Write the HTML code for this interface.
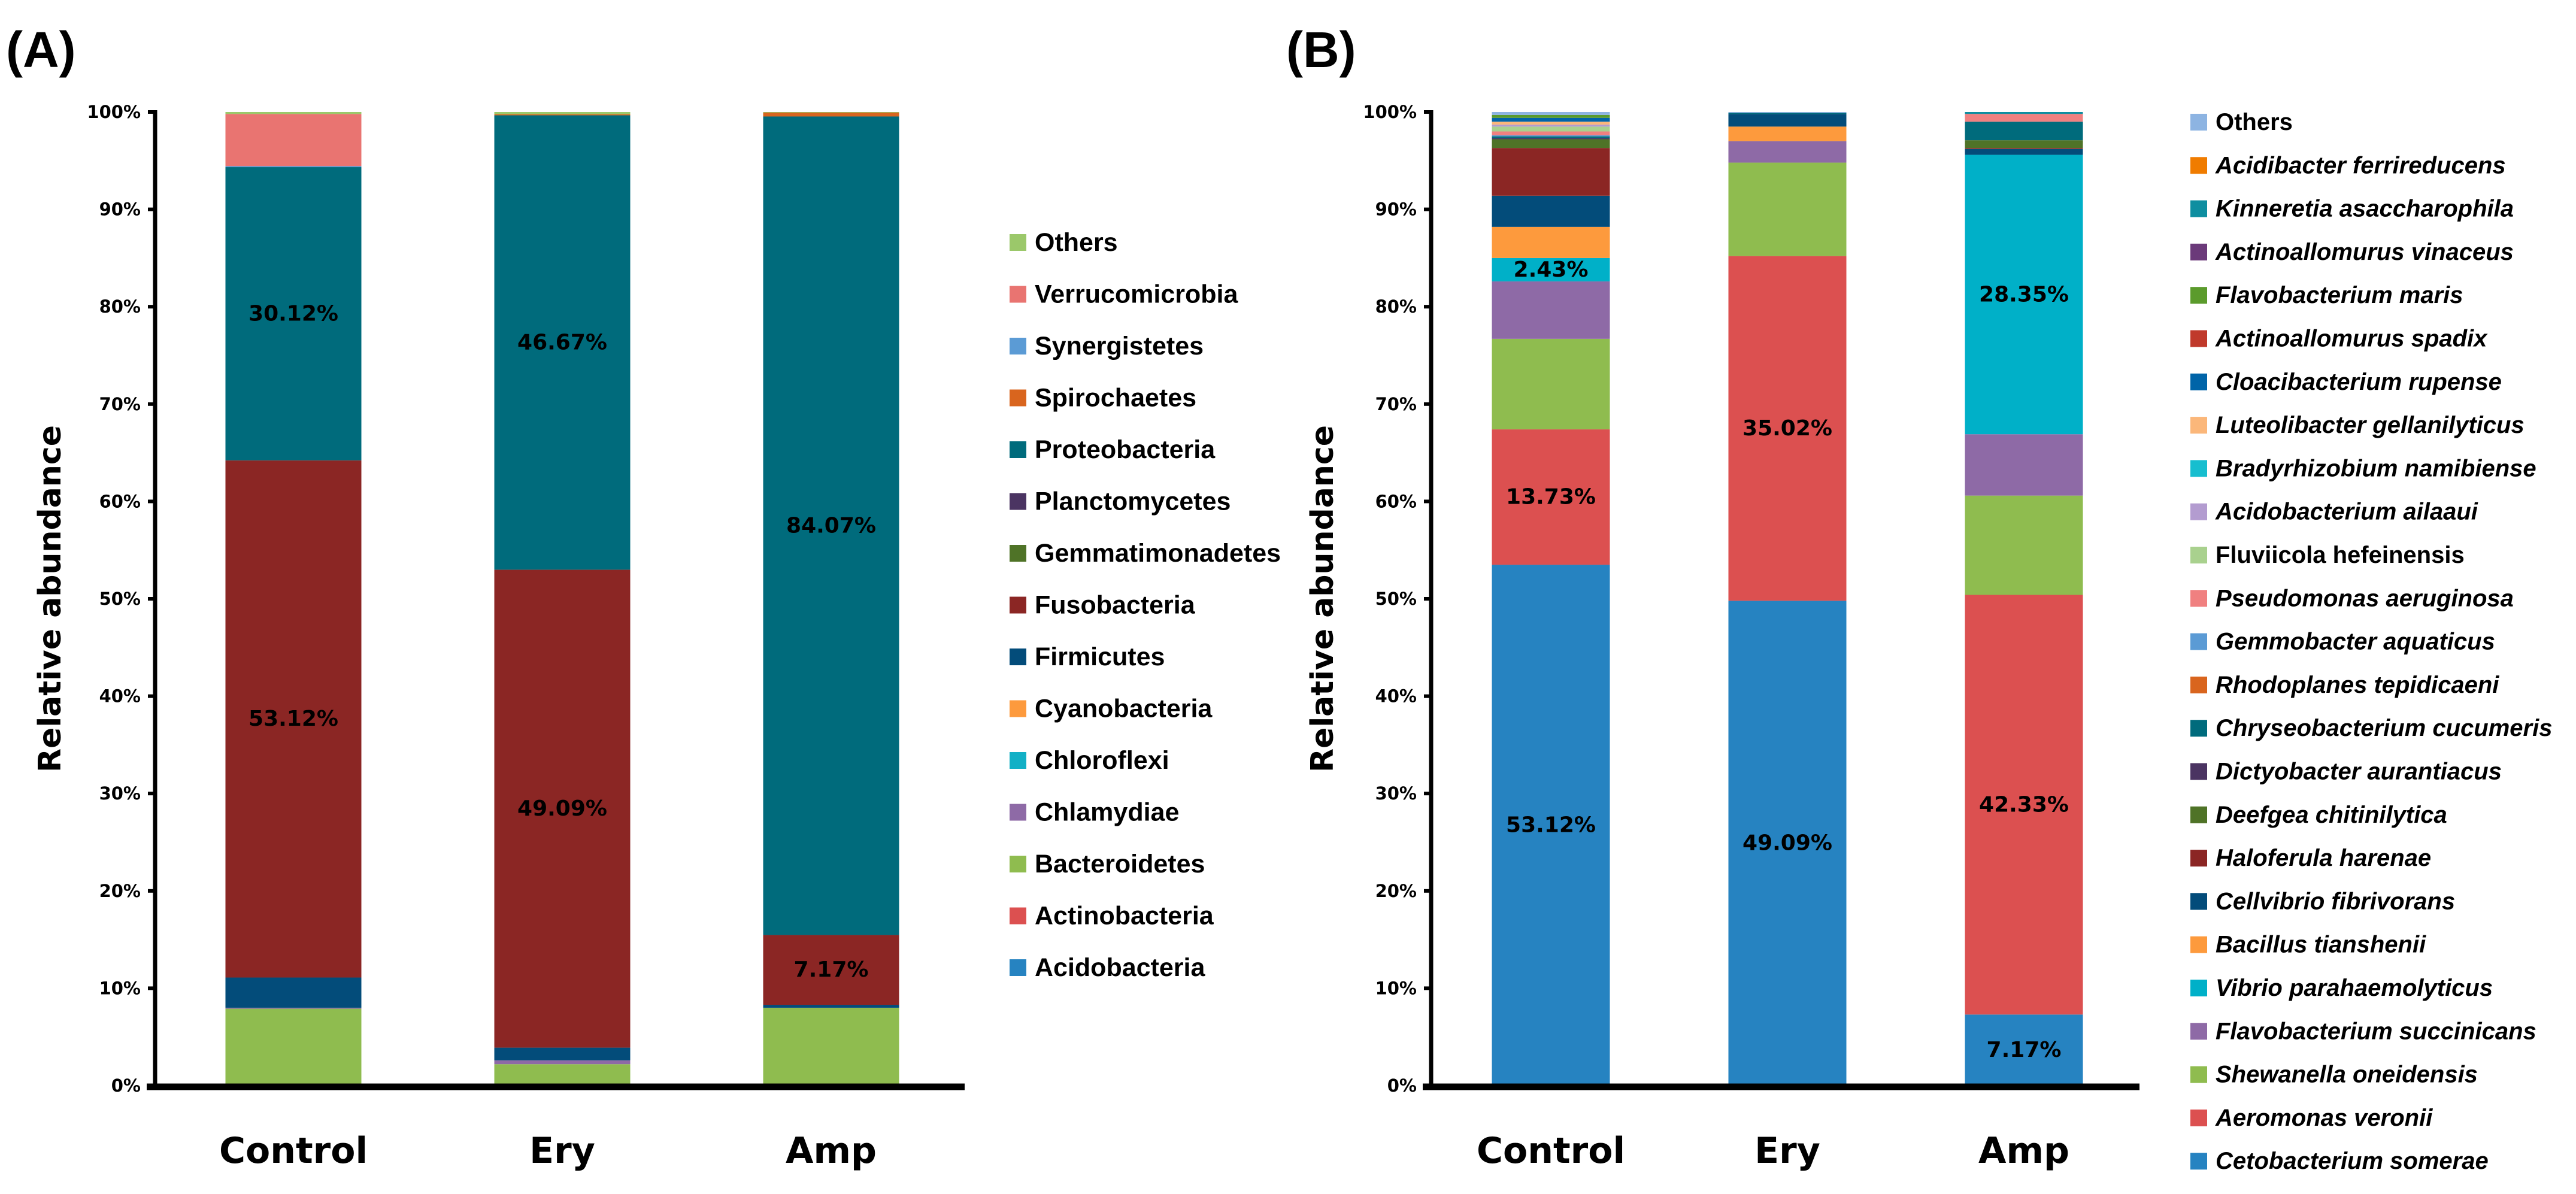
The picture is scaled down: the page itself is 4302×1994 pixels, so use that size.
<!DOCTYPE html>
<html><head><meta charset="utf-8">
<style>
html,body{margin:0;padding:0;background:#fff;}
svg{display:block;}
.tick{font-family:"DejaVu Sans","Liberation Sans",sans-serif;font-weight:bold;font-size:29px;fill:#000;}
.cat{font-family:"DejaVu Sans","Liberation Sans",sans-serif;font-weight:bold;font-size:60px;fill:#000;}
.ytitle{font-family:"DejaVu Sans","Liberation Sans",sans-serif;font-weight:bold;font-size:52px;fill:#000;}
.pct{font-family:"DejaVu Sans","Liberation Sans",sans-serif;font-weight:bold;font-size:36px;fill:#000;}
.leg{font-family:"Liberation Sans",sans-serif;font-weight:bold;font-size:43px;fill:#000;}
.legb{font-family:"Liberation Sans",sans-serif;font-weight:bold;font-size:40px;fill:#000;}
.panel{font-family:"Liberation Sans",sans-serif;font-weight:bold;font-size:84px;fill:#000;}
</style></head>
<body>
<svg id="chart" xmlns="http://www.w3.org/2000/svg" width="4302" height="1994" viewBox="0 0 4302 1994">
<text class="panel" x="10" y="112">(A)</text>
<text class="panel" x="2148" y="112">(B)</text>
</svg>
<script>
// ---------- Panel A data (phylum) ----------
const catsA = ["Control", "Ery", "Amp"];
const seriesA = ["Acidobacteria","Actinobacteria","Bacteroidetes","Chlamydiae","Chloroflexi","Cyanobacteria","Firmicutes","Fusobacteria","Gemmatimonadetes","Planctomycetes","Proteobacteria","Spirochaetes","Synergistetes","Verrucomicrobia","Others"];
const colorsA = ["#2683c1","#dc5050","#8fbc4f","#8e6aa6","#12b0c6","#fd9a3d","#034c7a","#8b2624","#4f7327","#4b3462","#006b7c","#d9651e","#5b9bd5","#e97471","#9bc86a"];
const controlA = [0.1,0,7.8,0.1,0,0,3.1,53.12,0,0,30.12,0,0.1,5.36,0.2];
const eryA     = [0,0,2.2,0.4,0,0,1.3,49.09,0,0,46.67,0.1,0,0,0.24];
const ampA     = [0,0,8.0,0,0,0,0.3,7.17,0,0,84.07,0.4,0,0,0.06];
const labelsA  = [[[7,"53.12%"],[10,"30.12%"]],[[7,"49.09%"],[10,"46.67%"]],[[7,"7.17%"],[10,"84.07%"]]];

// ---------- Panel B data (species) ----------
const catsB = ["Control", "Ery", "Amp"];
const seriesB = ["Cetobacterium somerae","Aeromonas veronii","Shewanella oneidensis","Flavobacterium succinicans","Vibrio parahaemolyticus","Bacillus tianshenii","Cellvibrio fibrivorans","Haloferula harenae","Deefgea chitinilytica","Dictyobacter aurantiacus","Chryseobacterium cucumeris","Rhodoplanes tepidicaeni","Gemmobacter aquaticus","Pseudomonas aeruginosa","Fluviicola hefeinensis","Acidobacterium ailaaui","Bradyrhizobium namibiense","Luteolibacter gellanilyticus","Cloacibacterium rupense","Actinoallomurus spadix","Flavobacterium maris","Actinoallomurus vinaceus","Kinneretia asaccharophila","Acidibacter ferrireducens","Others"];
const italicB = [1,1,1,1,1,1,1,1,1,1,1,1,1,1,0,1,1,1,1,1,1,1,1,1,0];
const colorsB = ["#2683c1","#dc5050","#8fbc4f","#8e6aa6","#00b0c8","#fd9a3d","#034c7a","#8b2624","#4f7327","#4b3462","#006b7c","#d9651e","#5b9bd5","#f08080","#a9d18e","#b39cd0","#17becf","#fbb77a","#0064a8","#c0392b","#5b9b2c","#6b3a7a","#0e8ea0","#f07c00","#8db4e2"];
const controlB = [53.5,13.9,9.3,5.9,2.4,3.2,3.2,4.9,0.9,0.1,0.2,0,0.1,0.4,0.5,0.2,0,0.3,0.4,0,0.3,0,0,0,0.3];
const eryB     = [49.8,35.4,9.6,2.2,0,1.5,1.3,0,0,0,0.1,0,0,0,0,0,0,0,0,0,0,0,0,0,0.1];
const ampB     = [7.3,43.1,10.2,6.3,28.7,0,0.6,0.1,0.8,0,1.9,0,0,0.8,0,0,0,0,0,0,0,0,0.2,0,0];
const labelsB  = [[[0,"53.12%"],[1,"13.73%"],[4,"2.43%"]],[[0,"49.09%"],[1,"35.02%"]],[[0,"7.17%"],[1,"42.33%"],[4,"28.35%"]]];

const yTicks = [0,10,20,30,40,50,60,70,80,90,100];

const NS = "http://www.w3.org/2000/svg";
const svg = document.getElementById("chart");
function mk(tag, attrs, parent){
  const e = document.createElementNS(NS, tag);
  for (const k in attrs) e.setAttribute(k, attrs[k]);
  (parent||svg).appendChild(e);
  return e;
}

function drawPanel(P){
  const y0 = 1813, y100 = 187;
  const yScale = v => y0 - (y0 - y100) * v / 100;
  const xCenter = i => P.firstCenter + i * P.spacing;
  const g = mk("g", {});
  
  

  P.data.forEach((vals, ci) => {
    let cum = 0;
    const tops = [];
    vals.forEach((v, si) => {
      const yb = yScale(cum), yt = yScale(cum + v);
      tops.push([yb, yt]);
      if (v > 0) {
        const r = mk("rect", {x: xCenter(ci) - P.barW/2, y: yt, width: P.barW, height: yb - yt, fill: P.colors[si]}, g);
        
        
      }
      cum += v;
    });
    P.labels[ci].forEach(([si, txt]) => {
      const [yb, yt] = tops[si];
      const t = mk("text", {x: xCenter(ci), y: (yb + yt)/2, class: "pct", "text-anchor": "middle", "dominant-baseline": "central"}, g);
      
      
      t.textContent = txt;
    });
    const c = mk("text", {x: xCenter(ci), y: 1942, class: "cat", "text-anchor": "middle"}, g);
    
    
    c.textContent = P.cats[ci];
  });

  const ya = mk("line", {x1: P.axisX, y1: y100 - 3, x2: P.axisX, y2: y0 + 4, stroke: "#000", "stroke-width": 7}, g);
  
  
  const xa = mk("line", {x1: P.axisX - 14, y1: y0 + 2, x2: P.axisEnd, y2: y0 + 2, stroke: "#000", "stroke-width": 11}, g);
  
  
  yTicks.forEach(v => {
    const tk = mk("line", {x1: P.axisX - 12, y1: yScale(v), x2: P.axisX, y2: yScale(v), stroke: "#000", "stroke-width": 6}, g);
    
    
    const tl = mk("text", {x: P.axisX - 24, y: yScale(v), class: "tick", "text-anchor": "end", "dominant-baseline": "central"}, g);
    
    
    tl.textContent = v + "%";
  });
  const yt = mk("text", {x: 0, y: 0, class: "ytitle", "text-anchor": "middle", "dominant-baseline": "central", transform: "translate(" + P.titleX + ",1000) rotate(-90)"}, g);
  
  
  yt.textContent = "Relative abundance";

  const n = P.series.length;
  for (let k = 0; k < n; k++) {
    const si = n - 1 - k;
    const cy = P.legTop + k * P.legStep;
    const lg = mk("g", {}, g);
    
    
    const sw = mk("rect", {x: P.legX, y: cy - 14, width: 28, height: 28, fill: P.colors[si]}, lg);
    
    
    const lt = mk("text", {x: P.legX + 42, y: cy, class: P.legClass, "dominant-baseline": "central"}, lg);
    
    
    if (P.italic && P.italic[si]) lt.setAttribute("font-style", "italic");
    lt.textContent = P.series[si];
  }
}

drawPanel({key:"a", cats:catsA, series:seriesA, colors:colorsA, data:[controlA, eryA, ampA], labels:labelsA,
  firstCenter:490, spacing:449, barW:227, axisX:259, axisEnd:1611, titleX:84,
  legX:1686, legTop:405, legStep:86.5, legClass:"leg"});
drawPanel({key:"b", cats:catsB, series:seriesB, colors:colorsB, data:[controlB, eryB, ampB], labels:labelsB, italic:italicB,
  firstCenter:2590, spacing:395, barW:197, axisX:2390, axisEnd:3573, titleX:2209,
  legX:3658, legTop:204, legStep:72.3, legClass:"legb"});
</script>
</body></html>
